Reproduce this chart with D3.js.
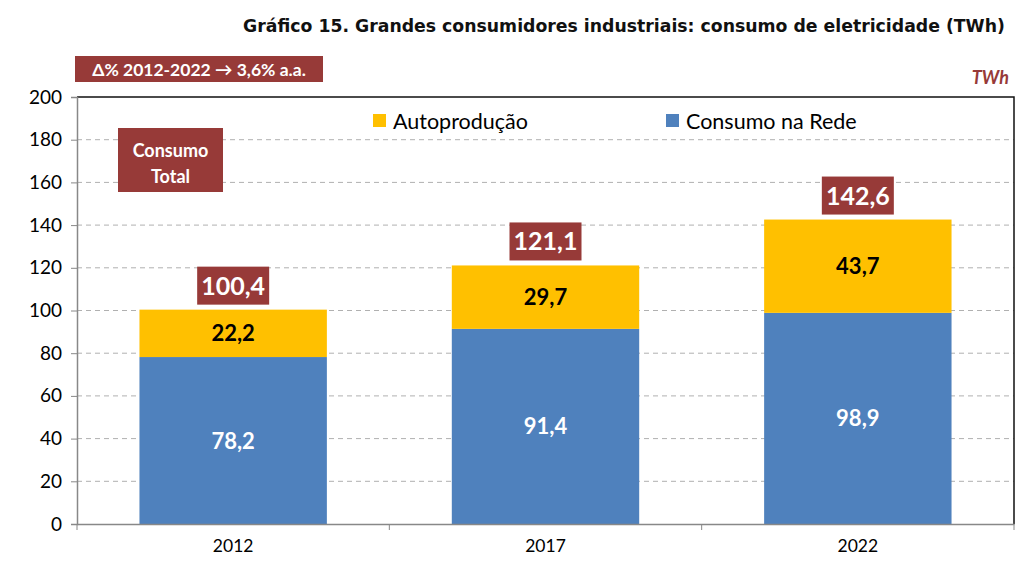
<!DOCTYPE html>
<html><head><meta charset="utf-8">
<script src="https://cdn.jsdelivr.net/npm/d3@7"></script>
<style>body{margin:0;background:#fff}svg{display:block}</style>
</head><body>
<script>
const categories = ["2012", "2017", "2022"];
const rede = [78.2, 91.4, 98.9];
const autoproducao = [22.2, 29.7, 43.7];
const totals = [100.4, 121.1, 142.6];
const yTicks = [0, 20, 40, 60, 80, 100, 120, 140, 160, 180, 200];
const seriesNames = ["Autoprodução", "Consumo na Rede"];
const title = "Gráfico 15. Grandes consumidores industriais: consumo de eletricidade (TWh)";
const growthNote = "Δ% 2012-2022 → 3,6% a.a.";
const unit = "TWh";

const W = 1024, H = 563;
const m = {left: 77, right: 1014, top: 97, bottom: 524};
const blue = "#4f81bd", yellow = "#ffc000", red = "#973a38";
const font = "Lato, 'Open Sans', sans-serif";
const fmt = v => v.toFixed(1).replace(".", ",");

const svg = d3.select("body").append("svg").attr("width", W).attr("height", H);

const x = d3.scaleBand().domain(categories).range([m.left, m.right]).paddingInner(0).paddingOuter(0);
const y = d3.scaleLinear().domain([0, 200]).range([m.bottom, m.top]);
const barW = x.bandwidth() * 0.6;

// title
svg.append("text").attr("x", 624).attr("y", 32).attr("text-anchor", "middle")
  .attr("font-family", "'DejaVu Sans', Verdana, sans-serif").attr("font-weight", "bold")
  .attr("font-size", 17.3).attr("fill", "#111").text(title);

// gridlines
svg.append("g").selectAll("line").data(yTicks.filter(t => t > 0 && t < 200)).join("line")
  .attr("x1", m.left).attr("x2", m.right).attr("y1", d => y(d)).attr("y2", d => y(d))
  .attr("stroke", "#b0b0b0").attr("stroke-width", 1).attr("stroke-dasharray", "5,4");

// border top/right
svg.append("path").attr("d", `M${m.left},${y(200)}H${m.right}V${m.bottom}`)
  .attr("fill", "none").attr("stroke", "#111").attr("stroke-width", 1.5);

// bars
const g = svg.append("g");
categories.forEach((c, i) => {
  const bx = x(c) + (x.bandwidth() - barW) / 2;
  g.append("rect").attr("x", bx).attr("width", barW)
    .attr("y", y(rede[i])).attr("height", y(0) - y(rede[i])).attr("fill", blue);
  g.append("rect").attr("x", bx).attr("width", barW)
    .attr("y", y(rede[i] + autoproducao[i])).attr("height", y(rede[i]) - y(rede[i] + autoproducao[i])).attr("fill", yellow);
  const cx = x(c) + x.bandwidth() / 2;
  g.append("text").attr("x", cx).attr("y", y(rede[i] / 2) + 8).attr("text-anchor", "middle")
    .attr("font-family", font).attr("font-weight", "bold").attr("font-size", 22).attr("fill", "#fff")
    .text(fmt(rede[i]));
  g.append("text").attr("x", cx).attr("y", y(rede[i] + autoproducao[i] / 2) + 8).attr("text-anchor", "middle")
    .attr("font-family", font).attr("font-weight", "bold").attr("font-size", 22).attr("fill", "#000")
    .text(fmt(autoproducao[i]));
  const ty = y(totals[i]) - 5;
  g.append("rect").attr("x", cx - 36).attr("y", ty - 38).attr("width", 72).attr("height", 38).attr("fill", red);
  g.append("text").attr("x", cx).attr("y", ty - 10).attr("text-anchor", "middle")
    .attr("font-family", font).attr("font-weight", "bold").attr("font-size", 25).attr("fill", "#fff")
    .text(fmt(totals[i]));
});

// y axis
const yAxis = svg.append("g").attr("transform", `translate(${m.left},0)`)
  .call(d3.axisLeft(y).tickValues(yTicks).tickSize(6).tickPadding(9).tickFormat(d3.format("d")));
yAxis.select(".domain").attr("stroke", "#888").attr("stroke-width", 1.5);
yAxis.selectAll(".tick line").attr("stroke", "#888");
yAxis.selectAll(".tick text").attr("font-family", font).attr("font-size", 19).attr("fill", "#000");

// x axis
const xAxis = svg.append("g").attr("transform", `translate(0,${m.bottom})`)
  .call(d3.axisBottom(x).tickSize(0).tickPadding(16));
xAxis.select(".domain").attr("stroke", "#888").attr("stroke-width", 1.5);
xAxis.selectAll(".tick text").attr("font-family", font).attr("font-size", 17.5).attr("fill", "#000");
xAxis.selectAll("line.bound").data(d3.range(categories.length + 1)).join("line").attr("class", "bound")
  .attr("x1", i => m.left + i * x.bandwidth()).attr("x2", i => m.left + i * x.bandwidth())
  .attr("y1", 0).attr("y2", 6).attr("stroke", "#888");

// legend
const legend = [{name: seriesNames[0], color: yellow, x: 373}, {name: seriesNames[1], color: blue, x: 666}];
legend.forEach(l => {
  svg.append("rect").attr("x", l.x).attr("y", 114).attr("width", 13).attr("height", 13).attr("fill", l.color);
  svg.append("text").attr("x", l.x + 20).attr("y", 129).attr("font-family", font).attr("font-size", 21.5)
    .attr("fill", "#000").text(l.name);
});

// growth note
svg.append("rect").attr("x", 75).attr("y", 56).attr("width", 248).attr("height", 26).attr("fill", red);
svg.append("text").attr("x", 199).attr("y", 75.5).attr("text-anchor", "middle").attr("font-family", font)
  .attr("font-weight", "bold").attr("font-size", 17.5).attr("fill", "#fff").text(growthNote);

// consumo total box
svg.append("rect").attr("x", 118).attr("y", 128).attr("width", 105).attr("height", 64).attr("fill", red);
svg.append("text").attr("x", 170.5).attr("y", 157).attr("text-anchor", "middle").attr("font-family", font)
  .attr("font-weight", "bold").attr("font-size", 18).attr("fill", "#fff").text("Consumo");
svg.append("text").attr("x", 170.5).attr("y", 183).attr("text-anchor", "middle").attr("font-family", font)
  .attr("font-weight", "bold").attr("font-size", 18).attr("fill", "#fff").text("Total");

// unit
svg.append("text").attr("x", 1009).attr("y", 84).attr("text-anchor", "end").attr("font-family", font)
  .attr("font-weight", "bold").attr("font-style", "italic").attr("font-size", 18).attr("fill", red).text(unit);
</script>
</body></html>
